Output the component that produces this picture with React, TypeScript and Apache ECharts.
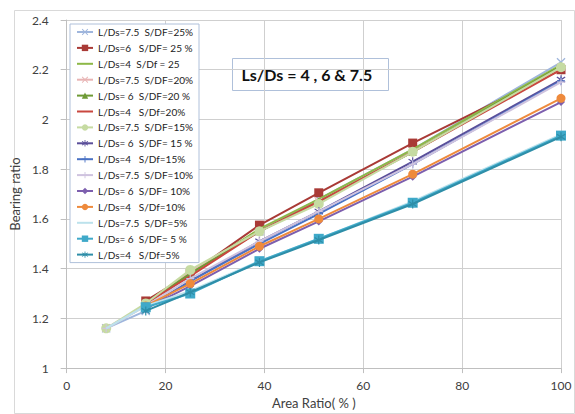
import React, { useEffect, useRef } from "react";
import * as echarts from "echarts";

// Area ratio (%) sampled for each series
const areaRatio = [16, 25, 39, 51, 70, 100];
const areaRatioLong = [8, 16, 25, 39, 51, 70, 100];

// Bearing ratio values
const ds75_sdf25 = [1.16, 1.23, 1.39, 1.55, 1.68, 1.88, 2.23];
const ds6_sdf25 = [1.27, 1.38, 1.575, 1.705, 1.905, 2.2];
const ds4_sdf25 = [1.26, 1.38, 1.56, 1.68, 1.88, 2.22];
const ds75_sdf20 = [1.16, 1.25, 1.39, 1.55, 1.67, 1.87, 2.21];
const ds6_sdf20 = [1.26, 1.38, 1.55, 1.67, 1.87, 2.215];
const ds4_sdf20 = [1.26, 1.37, 1.55, 1.67, 1.87, 2.2];
const ds75_sdf15 = [1.16, 1.26, 1.395, 1.55, 1.66, 1.87, 2.21];
const ds6_sdf15 = [1.24, 1.35, 1.51, 1.63, 1.83, 2.16];
const ds4_sdf15 = [1.24, 1.35, 1.5, 1.62, 1.82, 2.155];
const ds75_sdf10 = [1.16, 1.25, 1.36, 1.51, 1.63, 1.82, 2.15];
const ds6_sdf10 = [1.24, 1.33, 1.48, 1.59, 1.77, 2.07];
const ds4_sdf10 = [1.25, 1.34, 1.49, 1.6, 1.78, 2.085];
const ds75_sdf5 = [1.16, 1.25, 1.31, 1.43, 1.52, 1.67, 1.94];
const ds6_sdf5 = [1.245, 1.3, 1.43, 1.52, 1.665, 1.935];
const ds4_sdf5 = [1.23, 1.305, 1.425, 1.515, 1.66, 1.93];

const seriesNames = [
  "L/Ds=7.5  S/DF=25%",
  "L/Ds=6   S/DF= 25 %",
  "L/Ds=4  S/Df = 25",
  "L/Ds=7.5  S/DF=20%",
  "L/Ds= 6  S/DF=20 %",
  "L/Ds=4   S/Df=20%",
  "L/Ds=7.5  S/DF=15%",
  "L/Ds= 6  S/DF= 15 %",
  "L/Ds=4   S/Df=15%",
  "L/Ds=7.5  S/DF=10%",
  "L/Ds= 6  S/DF= 10%",
  "L/Ds=4   S/Df=10%",
  "L/Ds=7.5  S/DF=5%",
  "L/Ds= 6  S/DF= 5 %",
  "L/Ds=4   S/Df=5%",
];

const seriesValues = [
  ds75_sdf25, ds6_sdf25, ds4_sdf25,
  ds75_sdf20, ds6_sdf20, ds4_sdf20,
  ds75_sdf15, ds6_sdf15, ds4_sdf15,
  ds75_sdf10, ds6_sdf10, ds4_sdf10,
  ds75_sdf5, ds6_sdf5, ds4_sdf5,
];

const X_SYM = "path://M1,0L5,4L9,0L10,1L6,5L10,9L9,10L5,6L1,10L0,9L4,5L0,1Z";
const PLUS_SYM = "path://M4.3,0H5.7V4.3H10V5.7H5.7V10H4.3V5.7H0V4.3H4.3Z";
const STAR_SYM =
  "path://M4.4,0H5.6V3.8L8.8,1.6L9.5,2.6L6.2,5L9.5,7.4L8.8,8.4L5.6,6.2V10H4.4V6.2L1.2,8.4L0.5,7.4L3.8,5L0.5,2.6L1.2,1.6L4.4,3.8Z";
const LINE_ICON = "path://M0,0H16V2H0Z";

const styles = [
  { color: "#9FB6DD", symbol: X_SYM, size: 9 },
  { color: "#A93A36", symbol: "rect", size: 9 },
  { color: "#8DB847", symbol: "none", size: 0 },
  { color: "#E8B4B4", symbol: X_SYM, size: 8 },
  { color: "#6E9A35", symbol: "triangle", size: 8 },
  { color: "#C9473F", symbol: "none", size: 0 },
  { color: "#C6DBA2", symbol: "circle", size: 10 },
  { color: "#5B4F9A", symbol: STAR_SYM, size: 9 },
  { color: "#4A72C4", symbol: PLUS_SYM, size: 8 },
  { color: "#CFC3DF", symbol: PLUS_SYM, size: 8 },
  { color: "#7D5FAE", symbol: "diamond", size: 8 },
  { color: "#EE8A3C", symbol: "circle", size: 9 },
  { color: "#BCE2EC", symbol: "none", size: 0 },
  { color: "#3FA9C9", symbol: "rect", size: 10 },
  { color: "#2E8EA8", symbol: STAR_SYM, size: 9 },
];

const yTicks = ["1", "1.2", "1.4", "1.6", "1.8", "2", "2.2", "2.4"];

const FONT = "Lato";

export default function App() {
  const ref = useRef<HTMLDivElement>(null);
  useEffect(() => {
    if (!ref.current) return;
    const chart = echarts.init(ref.current, undefined, { renderer: "svg" });
    const series = seriesValues.map((vals, i) => {
      const xs = vals.length === 7 ? areaRatioLong : areaRatio;
      const st = styles[i];
      return {
        name: seriesNames[i],
        type: "line",
        data: vals.map((v, j) => [xs[j], v]),
        symbol: st.symbol,
        symbolSize: st.size,
        showSymbol: st.symbol !== "none",
        lineStyle: { color: st.color, width: 2 },
        itemStyle: { color: st.color },
        z: 2 + i,
      };
    });
    const legendData = seriesNames.map((n, i) =>
      styles[i].symbol === "none" ? { name: n, icon: LINE_ICON } : { name: n }
    );
    chart.setOption({
      animation: false,
      backgroundColor: "#ffffff",
      textStyle: { fontFamily: FONT },
      grid: { left: 66, right: 14, top: 20, bottom: 40 },
      xAxis: {
        type: "value",
        min: 0,
        max: 100,
        interval: 20,
        name: "Area Ratio( % )",
        nameLocation: "middle",
        nameGap: 27,
        nameTextStyle: { fontSize: 13, color: "#404040", fontFamily: FONT },
        axisLine: { show: true, lineStyle: { color: "#BFBFBF" } },
        axisTick: { show: true, inside: false, length: 5, lineStyle: { color: "#BFBFBF" } },
        axisLabel: { fontSize: 12, color: "#404040", margin: 11, fontFamily: FONT },
        splitLine: { show: true, lineStyle: { color: "#CFCFCF", width: 1 } },
      },
      yAxis: {
        type: "value",
        min: 1,
        max: 2.4,
        interval: 0.2,
        name: "Bearing ratio",
        nameLocation: "middle",
        nameRotate: 90,
        nameGap: 35,
        nameTextStyle: { fontSize: 13, color: "#404040", fontFamily: FONT },
        axisLine: { show: true, lineStyle: { color: "#BFBFBF" } },
        axisTick: { show: true, inside: false, length: 6, lineStyle: { color: "#BFBFBF" } },
        axisLabel: {
          fontSize: 12,
          color: "#404040",
          margin: 18,
          fontFamily: FONT,
          formatter: (v: number) => {
            const idx = Math.round((v - 1) / 0.2);
            return yTicks[idx] ?? String(v);
          },
        },
        splitLine: { show: true, lineStyle: { color: "#CFCFCF", width: 1 } },
      },
      legend: {
        orient: "vertical",
        left: 70,
        top: 24,
        width: 133,
        padding: [3, 6, 3, 6],
        itemWidth: 16,
        itemHeight: 8,
        itemGap: 5.9,
        backgroundColor: "#ffffff",
        borderColor: "#AFC0DA",
        borderWidth: 1,
        textStyle: { fontSize: 10, color: "#222222", lineHeight: 10, fontFamily: FONT },
        data: legendData,
      },
      graphic: [
        {
          type: "rect",
          left: 12,
          top: 8,
          shape: { width: 560, height: 403 },
          style: { fill: "none", stroke: "#D9D9D9", lineWidth: 1 },
          silent: true,
          z: -10,
        },
        {
          type: "group",
          left: 232,
          top: 58,
          z: 100,
          children: [
            {
              type: "rect",
              shape: { x: 0, y: 0, width: 156, height: 32 },
              style: { fill: "#ffffff", stroke: "#AFC0DA", lineWidth: 1 },
            },
            {
              type: "text",
              x: 9,
              y: 16,
              style: {
                text: "Ls/Ds = 4 , 6 & 7.5",
                fontSize: 16,
                fontWeight: "bold",
                fontFamily: FONT,
                fill: "#111111",
                verticalAlign: "middle",
              },
            },
          ],
        },
      ],
      series,
    });
    return () => chart.dispose();
  }, []);
  return <div ref={ref} style={{ width: 575, height: 414, position: "absolute", left: 0, top: 0 }} />;
}
